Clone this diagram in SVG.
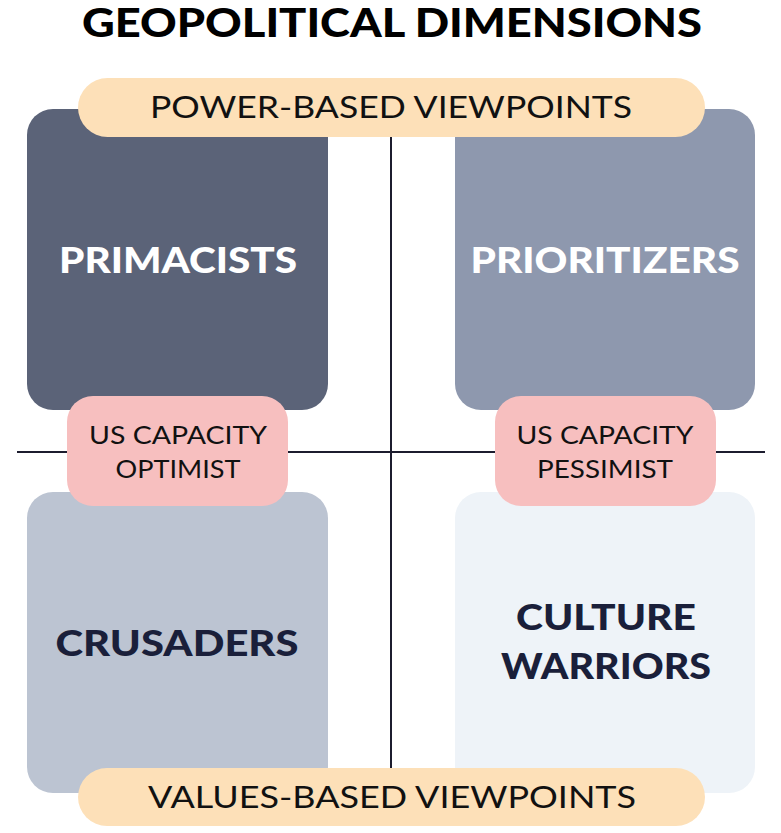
<svg xmlns="http://www.w3.org/2000/svg" width="781" height="833" viewBox="0 0 781 833">
<style>
.t{font-family:Lato,"Open Sans","Liberation Sans",sans-serif;text-anchor:middle}
.title{font-size:39px;font-weight:900;fill:#000}
.big{font-size:36px;font-weight:900}
.pill{font-size:31px;font-weight:400;fill:#111}
.pink{font-size:25px;font-weight:400;fill:#111}
.ln{stroke:#1c1c2e;stroke-width:2;fill:none}
</style>
<rect width="781" height="833" fill="#fff"/>
<text class="t title" x="392" y="37" textLength="620" lengthAdjust="spacingAndGlyphs">GEOPOLITICAL DIMENSIONS</text>
<g id="connectors">
<line class="ln" x1="17" y1="452" x2="765" y2="452"/>
<line class="ln" x1="391" y1="120" x2="391" y2="790"/>
</g>
<g id="primacists">
<rect x="27" y="109" width="301" height="301" rx="26" fill="#5b6378"/>
<text class="t big" x="178" y="273" fill="#fff" textLength="238" lengthAdjust="spacingAndGlyphs">PRIMACISTS</text>
</g>
<g id="prioritizers">
<rect x="455" y="109" width="300" height="301" rx="26" fill="#8e98ae"/>
<text class="t big" x="605" y="273" fill="#fff" textLength="269" lengthAdjust="spacingAndGlyphs">PRIORITIZERS</text>
</g>
<g id="crusaders">
<rect x="27" y="492" width="301" height="301" rx="26" fill="#bcc4d2"/>
<text class="t big" x="177" y="656" fill="#1a1f3a" textLength="243" lengthAdjust="spacingAndGlyphs">CRUSADERS</text>
</g>
<g id="culture-warriors">
<rect x="455" y="492" width="300" height="301" rx="26" fill="#eef3f8"/>
<text class="t big" x="606" y="630" fill="#1a1f3a" textLength="180" lengthAdjust="spacingAndGlyphs">CULTURE</text>
<text class="t big" x="606" y="679" fill="#1a1f3a" textLength="210" lengthAdjust="spacingAndGlyphs">WARRIORS</text>
</g>
<g id="power-based">
<rect x="78" y="78" width="627" height="59" rx="29.5" fill="#fde0b8"/>
<text class="t pill" x="391" y="118" textLength="482" lengthAdjust="spacingAndGlyphs">POWER-BASED VIEWPOINTS</text>
</g>
<g id="values-based">
<rect x="78" y="768" width="627" height="58" rx="29" fill="#fde0b8"/>
<text class="t pill" x="392" y="808" textLength="488" lengthAdjust="spacingAndGlyphs">VALUES-BASED VIEWPOINTS</text>
</g>
<g id="optimist">
<rect x="67" y="396" width="221" height="110" rx="26" fill="#f7bfbf"/>
<text class="t pink" x="178" y="444" textLength="178" lengthAdjust="spacingAndGlyphs">US CAPACITY</text>
<text class="t pink" x="178" y="478" textLength="125" lengthAdjust="spacingAndGlyphs">OPTIMIST</text>
</g>
<g id="pessimist">
<rect x="495" y="396" width="221" height="110" rx="26" fill="#f7bfbf"/>
<text class="t pink" x="605" y="444" textLength="177" lengthAdjust="spacingAndGlyphs">US CAPACITY</text>
<text class="t pink" x="605" y="478" textLength="136" lengthAdjust="spacingAndGlyphs">PESSIMIST</text>
</g>
</svg>
